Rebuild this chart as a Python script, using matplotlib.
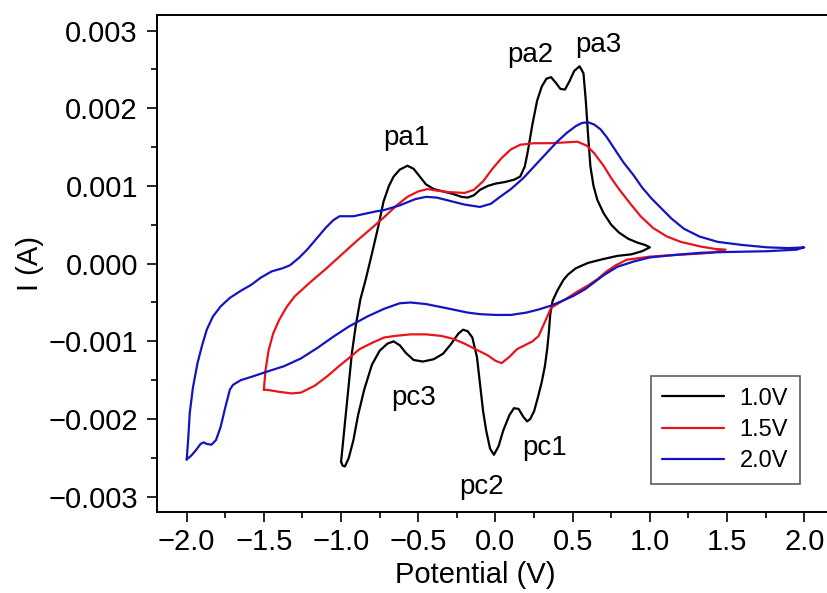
import numpy as np
import matplotlib
matplotlib.use("Agg")
import matplotlib.pyplot as plt
from matplotlib.ticker import MultipleLocator, FuncFormatter

plt.rcParams['font.family'] = ['Liberation Sans', 'DejaVu Sans']

# ---- data (potential in V, current in mA; converted to A below) ----
black_x = [-1.0, -0.99, -0.975, -0.955, -0.93, -0.905, -0.875, -0.84, -0.80, -0.76, -0.725, -0.69, -0.66, -0.62, -0.57,
           -0.53, -0.49, -0.45, -0.40, -0.34, -0.28, -0.22, -0.18, -0.14, -0.10, -0.05, 0.0, 0.06, 0.12, 0.16,
           0.19, 0.21, 0.24, 0.27, 0.30, 0.33, 0.36, 0.39, 0.42, 0.45, 0.48, 0.51, 0.545, 0.57, 0.585,
           0.60, 0.615, 0.635, 0.66, 0.70, 0.75, 0.80, 0.86, 0.92, 0.97, 1.0,
           0.95, 0.88, 0.79, 0.70, 0.60, 0.52, 0.47, 0.44, 0.40, 0.37, 0.355, 0.345, 0.335, 0.32, 0.30,
           0.275, 0.25, 0.225, 0.205, 0.18, 0.15, 0.12, 0.09, 0.05, 0.02, -0.01, -0.035, -0.06, -0.08,
           -0.10, -0.12, -0.15, -0.18, -0.21, -0.24, -0.29, -0.34, -0.40, -0.47, -0.53, -0.58, -0.62,
           -0.66, -0.70, -0.75, -0.80, -0.85, -0.89, -0.92, -0.95, -0.975, -0.99, -1.0]
black_y = [-2.55, -2.35, -2.05, -1.65, -1.15, -0.80, -0.46, -0.20, 0.13, 0.47, 0.80, 1.0, 1.12, 1.21, 1.26,
           1.22, 1.12, 1.02, 0.96, 0.93, 0.90, 0.86, 0.85, 0.88, 0.95, 1.00, 1.03, 1.05, 1.08, 1.12,
           1.25, 1.45, 1.80, 2.10, 2.28, 2.38, 2.40, 2.33, 2.25, 2.24, 2.35, 2.48, 2.54, 2.45, 2.10,
           1.65, 1.25, 1.00, 0.82, 0.65, 0.50, 0.40, 0.32, 0.27, 0.24, 0.21,
           0.16, 0.12, 0.10, 0.06, 0.01, -0.06, -0.14, -0.21, -0.35, -0.48, -0.65, -0.90, -1.10, -1.32, -1.52,
           -1.72, -1.90, -2.00, -2.03, -1.97, -1.87, -1.86, -1.95, -2.15, -2.35, -2.46, -2.38, -2.15, -1.90,
           -1.55, -1.20, -0.95, -0.87, -0.85, -0.90, -1.04, -1.16, -1.23, -1.26, -1.24, -1.15, -1.05,
           -1.00, -1.03, -1.12, -1.30, -1.62, -1.95, -2.27, -2.50, -2.61, -2.60, -2.55]

red_x = [-1.5, -1.49, -1.47, -1.44, -1.40, -1.35, -1.30, -1.20, -1.10, -1.00, -0.90, -0.80, -0.72, -0.64, -0.57,
         -0.50, -0.44, -0.38, -0.30, -0.20, -0.14, -0.08, -0.02, 0.04, 0.10, 0.16, 0.25, 0.35, 0.45, 0.53,
         0.59, 0.64, 0.70, 0.75, 0.80, 0.87, 0.94, 1.02, 1.11, 1.20, 1.33, 1.42, 1.49,
         1.40, 1.33, 1.15, 1.0, 0.85, 0.78, 0.72, 0.66, 0.60, 0.53, 0.46, 0.40, 0.36, 0.32, 0.28, 0.24,
         0.19, 0.14, 0.09, 0.04, 0.0, -0.05, -0.12, -0.20, -0.27, -0.35, -0.45, -0.55, -0.65, -0.72,
         -0.80, -0.88, -0.94, -1.02, -1.09, -1.17, -1.26, -1.32, -1.40, -1.46, -1.5]
red_y = [-1.62, -1.38, -1.12, -0.90, -0.72, -0.55, -0.42, -0.24, -0.07, 0.11, 0.29, 0.46, 0.60, 0.75, 0.86,
         0.93, 0.96, 0.94, 0.92, 0.91, 0.95, 1.06, 1.22, 1.36, 1.47, 1.53, 1.55, 1.55, 1.56, 1.57,
         1.52, 1.42, 1.26, 1.10, 0.96, 0.78, 0.61, 0.46, 0.35, 0.28, 0.22, 0.19, 0.18,
         0.14, 0.13, 0.11, 0.09, 0.05, -0.02, -0.10, -0.20, -0.28, -0.36, -0.45, -0.52, -0.57, -0.75, -0.93, -1.00,
         -1.05, -1.10, -1.20, -1.28, -1.25, -1.18, -1.11, -1.03, -0.97, -0.93, -0.91, -0.91, -0.93, -0.95,
         -1.02, -1.10, -1.20, -1.33, -1.45, -1.57, -1.66, -1.67, -1.65, -1.63, -1.62]

blue_x = [-2.0, -1.99, -1.98, -1.96, -1.93, -1.90, -1.87, -1.83, -1.78, -1.72, -1.65, -1.58, -1.52, -1.45, -1.38,
          -1.33, -1.27, -1.22, -1.16, -1.10, -1.05, -1.01, -0.96, -0.92, -0.85, -0.78, -0.72, -0.62, -0.52, -0.45,
          -0.38, -0.30, -0.20, -0.10, -0.03, 0.03, 0.10, 0.18, 0.25, 0.32, 0.40, 0.46, 0.52, 0.56, 0.60,
          0.64, 0.68, 0.72, 0.77, 0.83, 0.89, 0.95, 1.01, 1.07, 1.14, 1.22, 1.32, 1.44, 1.60, 1.76, 1.90, 2.0,
          1.95, 1.76, 1.5, 1.33, 1.15, 1.0, 0.90, 0.79, 0.70, 0.64, 0.58, 0.50, 0.42, 0.36, 0.28, 0.20,
          0.10, 0.0, -0.10, -0.18, -0.30, -0.45, -0.55, -0.62, -0.72, -0.83, -0.95, -1.05, -1.15, -1.26,
          -1.37, -1.48, -1.57, -1.65, -1.70, -1.72, -1.75, -1.78, -1.81, -1.84, -1.87, -1.89, -1.91, -1.94,
          -1.97, -2.0]
blue_y = [-2.52, -2.25, -1.92, -1.60, -1.28, -1.05, -0.85, -0.68, -0.55, -0.44, -0.35, -0.27, -0.18, -0.10, -0.06,
          -0.02, 0.08, 0.18, 0.32, 0.46, 0.56, 0.61, 0.61, 0.61, 0.64, 0.67, 0.69, 0.75, 0.83, 0.86,
          0.85, 0.81, 0.76, 0.73, 0.77, 0.86, 0.96, 1.10, 1.25, 1.40, 1.57, 1.68, 1.77, 1.81, 1.82,
          1.79, 1.73, 1.63, 1.48, 1.30, 1.15, 0.98, 0.84, 0.72, 0.58, 0.45, 0.35, 0.28, 0.24, 0.21, 0.20, 0.21,
          0.18, 0.16, 0.15, 0.14, 0.11, 0.08, 0.03, -0.04, -0.15, -0.24, -0.33, -0.42, -0.49, -0.54, -0.59, -0.63,
          -0.66, -0.66, -0.65, -0.63, -0.58, -0.52, -0.50, -0.51, -0.58, -0.68, -0.81, -0.94, -1.08, -1.22,
          -1.32, -1.39, -1.45, -1.50, -1.56, -1.62, -1.85, -2.10, -2.27, -2.33, -2.32, -2.30, -2.32, -2.40,
          -2.47, -2.52]

series_labels = ['1.0V', '1.5V', '2.0V']
peak_labels = ['pa1', 'pa2', 'pa3', 'pc3', 'pc2', 'pc1']
peak_x = [-0.58, 0.227, 0.667, -0.53, -0.09, 0.32]
peak_y = [1.62, 2.69, 2.82, -1.73, -2.87, -2.37]

# ---- figure ----
fig = plt.figure(figsize=(8.28, 5.93), dpi=100)
ax = fig.add_axes([0.1893, 0.1361, 0.8193, 0.8386])

ma = 1e-3
style = dict(lw=1.6, solid_joinstyle='round', solid_capstyle='round')
ax.plot(black_x, np.array(black_y) * ma, color='black', label=series_labels[0], **style)
ax.plot(red_x, np.array(red_y) * ma, color='#e8141c', label=series_labels[1], **style)
ax.plot(blue_x, np.array(blue_y) * ma, color='#1414c0', label=series_labels[2], **style)

for lab, px, py in zip(peak_labels, peak_x, peak_y):
    ax.text(px, py * ma, lab, fontsize=20, ha='center', va='center')

ax.set_xlim(-2.194, 2.2)
ax.set_ylim(-0.0032, 0.0032)

ax.xaxis.set_major_locator(MultipleLocator(0.5))
ax.xaxis.set_minor_locator(MultipleLocator(0.25))
ax.yaxis.set_major_locator(MultipleLocator(0.001))
ax.yaxis.set_minor_locator(MultipleLocator(0.0005))

def fmt_x(v, pos):
    s = f"{v:.1f}"
    if s == "-0.0":
        s = "0.0"
    return s.replace('-', '\u2212')

def fmt_y(v, pos):
    s = f"{v:.3f}"
    if s == "-0.000":
        s = "0.000"
    return s.replace('-', '\u2212')

ax.xaxis.set_major_formatter(FuncFormatter(fmt_x))
ax.yaxis.set_major_formatter(FuncFormatter(fmt_y))

ax.tick_params(axis='both', which='major', direction='out', length=7.5, width=1.2, labelsize=21)
ax.tick_params(axis='both', which='minor', direction='out', length=4, width=1.2)
ax.tick_params(axis='x', which='major', pad=4)
ax.tick_params(axis='y', which='major', pad=6)

for sp in ax.spines.values():
    sp.set_linewidth(1.4)

ax.set_xlabel('Potential (V)', fontsize=21)
ax.set_ylabel('I (A)', fontsize=21)
ax.xaxis.set_label_coords(0.469, -0.126)
ax.xaxis.label.set_va('center')
ax.yaxis.set_label_coords(-0.187, 0.5)
ax.yaxis.label.set_va('center')

leg = ax.legend(loc='lower right', bbox_to_anchor=(0.948, 0.0563), borderaxespad=0,
                fontsize=17, frameon=True, fancybox=False, handlelength=2.63,
                handletextpad=0.64, labelspacing=0.4, borderpad=0.5)
leg.get_frame().set_edgecolor('#333333')
leg.get_frame().set_linewidth(1.2)

fig.savefig('out.png', dpi=100)
